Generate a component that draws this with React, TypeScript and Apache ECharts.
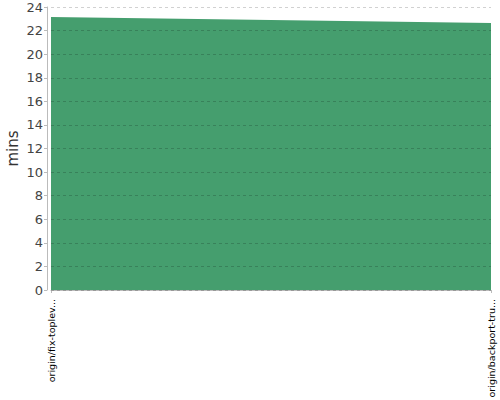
import React, { useEffect, useRef } from 'react';
import * as echarts from 'echarts';

// branches on the x axis (as shown, already truncated)
const branches = ['origin/fix-toplev...', 'origin/backport-tru...'];
// build time in minutes
const durations = [23.15, 22.65];
const yTicks = { min: 0, max: 24, interval: 2 };

const App: React.FC = () => {
  const chartRef = useRef<HTMLDivElement>(null);

  useEffect(() => {
    if (!chartRef.current) return;
    const chart = echarts.init(chartRef.current, undefined, { renderer: 'svg' });

    const option: echarts.EChartsOption = {
      animation: false,
      textStyle: { fontFamily: 'DejaVu Sans' },
      grid: { left: 51, right: 9, top: 7, bottom: 110, outerBoundsMode: 'none' } as any,
      xAxis: {
        type: 'category',
        data: branches,
        boundaryGap: false,
        offset: 3,
        axisLine: { lineStyle: { color: '#bbb' } },
        axisTick: { show: true, length: 3, lineStyle: { color: '#bbb' } },
        axisLabel: { rotate: 90, fontSize: 9.5, color: '#000', margin: 6 },
        splitLine: { show: false }
      },
      yAxis: {
        type: 'value',
        min: yTicks.min,
        max: yTicks.max,
        interval: yTicks.interval,
        offset: 4,
        z: 5,
        name: 'mins',
        nameLocation: 'middle',
        nameGap: 27,
        nameMoveOverlap: false,
        nameTextStyle: { fontSize: 15, color: '#333' },
        axisLine: { show: true, lineStyle: { color: '#bbb' } },
        axisTick: { show: true, length: 3, lineStyle: { color: '#bbb' } },
        axisLabel: { fontSize: 13, color: '#444', margin: 4 },
        splitLine: { lineStyle: { color: 'rgba(0,0,0,0.18)', type: [3, 3], width: 1 } }
      } as any,
      series: [{
        type: 'line',
        data: durations,
        symbol: 'none',
        lineStyle: { width: 0 },
        areaStyle: { color: '#459e6e', opacity: 1 }
      }]
    };

    chart.setOption(option);
    return () => chart.dispose();
  }, []);

  return (
    <div
      ref={chartRef}
      style={{ position: 'absolute', left: 0, top: 0, width: '500px', height: '400px', background: '#fff' }}
    />
  );
};

export default App;
